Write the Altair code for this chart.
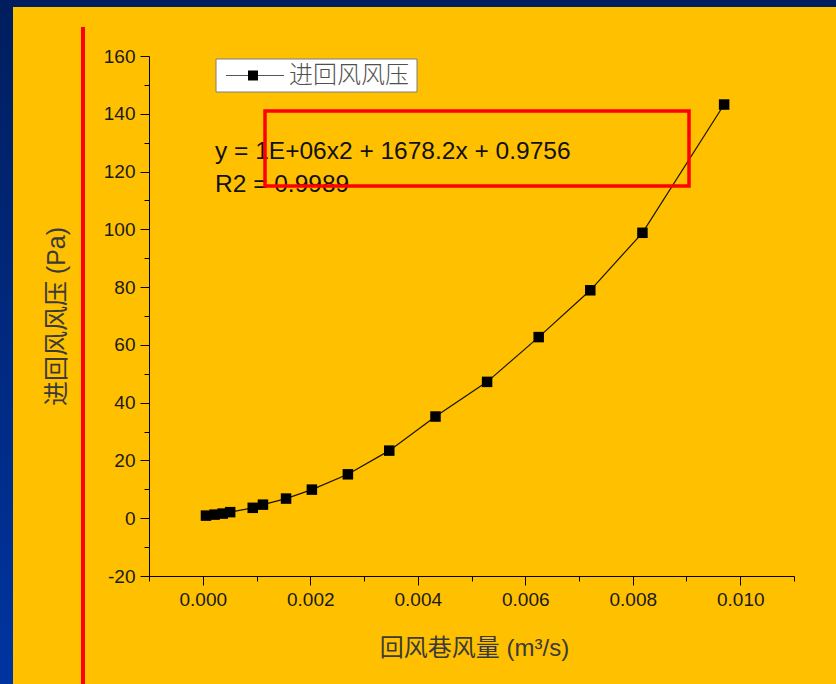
import altair as alt
import pandas as pd

# Measured airflow in the return-air roadway (m^3/s) and intake/return pressure (Pa)
flow = [0.00006, 0.00022, 0.00037, 0.00051, 0.00093, 0.00112, 0.00155, 0.00203,
        0.00270, 0.00347, 0.00433, 0.00529, 0.00625, 0.00721, 0.00818, 0.00970]
pressure = [0.9, 1.25, 1.6, 2.1, 3.6, 4.7, 6.8, 9.9,
            15.2, 23.4, 35.2, 47.2, 62.7, 78.9, 98.8, 143.2]

x_ticks = [-0.001, 0.0, 0.001, 0.002, 0.003, 0.004, 0.005, 0.006,
           0.007, 0.008, 0.009, 0.010, 0.011]
y_ticks = [-20, -10, 0, 10, 20, 30, 40, 50, 60, 70, 80, 90, 100,
           110, 120, 130, 140, 150, 160]

series_name = "进回风风压"
x_title = "回风巷风量 (m³/s)"
y_title = "进回风风压 (Pa)"
fit_eq = "y = 1E+06x2 + 1678.2x + 0.9756"
fit_r2 = "R2 = 0.9989"

W, H = 645, 520
PAD = {"left": 149, "top": 56, "right": 42, "bottom": 108}
ORANGE = "#FFC000"
LATIN = "Liberation Sans, Arial, Noto Sans CJK SC"
one = alt.Data(values=[{}])

df = pd.DataFrame({"flow": flow, "pressure": pressure})

x_enc = alt.X(
    "flow:Q",
    scale=alt.Scale(domain=[-0.001, 0.011], nice=False, zero=False),
    axis=alt.Axis(
        values=x_ticks,
        labelExpr="round(datum.value*1000) % 2 == 0 ? format(datum.value, '.3f') : ''",
        tickSize={"condition": {"test": "round(datum.value*1000) % 2 == 0", "value": 9}, "value": 5},
        title=x_title,
        titleX=325, titleY=72, titleBaseline="middle", titleAlign="center",
        titleFontSize=24, titleFontWeight="normal", titleColor="#3a3a3a",
        titleFont=LATIN,
    ),
)
y_enc = alt.Y(
    "pressure:Q",
    scale=alt.Scale(domain=[-20, 160], nice=False, zero=False),
    axis=alt.Axis(
        values=y_ticks,
        labelExpr="datum.value % 20 == 0 ? '' + datum.value : ''",
        tickSize={"condition": {"test": "datum.value % 20 == 0", "value": 9}, "value": 5},
        title=y_title,
        titleX=-93, titleY=H / 2, titleAngle=270, titleBaseline="middle", titleAlign="center",
        titleFontSize=25, titleFontWeight="normal", titleColor="#3a3a3a",
        titleFont=LATIN,
    ),
)

base = alt.Chart(df).encode(x=x_enc, y=y_enc)
curve = base.mark_line(color="#1a1400", strokeWidth=1.2)
dots = base.mark_point(shape="square", filled=True, size=110, color="black", opacity=1)

# Page frame: dark band on top, gradient band on the left, red divider
top_band = alt.Chart(one).mark_rect(fill="#001E5E").encode(
    x=alt.value(-149), x2=alt.value(687), y=alt.value(-56), y2=alt.value(-49))
left_band = alt.Chart(one).mark_rect(
    fill=alt.Gradient(
        gradient="linear",
        stops=[alt.GradientStop(color="#001E5E", offset=0),
               alt.GradientStop(color="#0034A0", offset=1)],
        x1=0, x2=0, y1=0, y2=1,
    )
).encode(x=alt.value(-149), x2=alt.value(-136), y=alt.value(-56), y2=alt.value(628))
red_bar = alt.Chart(one).mark_rect(fill="#FF0000").encode(
    x=alt.value(-68), x2=alt.value(-64), y=alt.value(-29), y2=alt.value(628))

# Legend box
leg_box = alt.Chart(one).mark_rect(fill="white", stroke="#7f7f7f", strokeWidth=1).encode(
    x=alt.value(67), x2=alt.value(268), y=alt.value(3), y2=alt.value(36))
leg_line = alt.Chart(one).mark_rule(color="#555555", strokeWidth=1).encode(
    x=alt.value(77), x2=alt.value(135), y=alt.value(19.5))
leg_sym = alt.Chart(one).mark_point(shape="square", filled=True, size=100, color="black", opacity=1).encode(
    x=alt.value(104), y=alt.value(19.5))
leg_txt = alt.Chart(one).mark_text(
    text=series_name, align="left", baseline="middle", fontSize=24,
    font="Noto Sans CJK SC", fontWeight=300, color="#505050",
).encode(x=alt.value(140), y=alt.value(19.5))

# Fit equation with its highlight box
eq_txt = alt.Chart(one).mark_text(
    text=fit_eq, align="left", baseline="alphabetic", fontSize=24.5, font=LATIN, color="#111111",
).encode(x=alt.value(66), y=alt.value(103))
r2_txt = alt.Chart(one).mark_text(
    text=fit_r2, align="left", baseline="alphabetic", fontSize=24.5, font=LATIN, color="#111111",
).encode(x=alt.value(66), y=alt.value(136))
red_box = alt.Chart(one).mark_rect(fillOpacity=0, stroke="#FF0000", strokeWidth=3.5).encode(
    x=alt.value(116), x2=alt.value(540), y=alt.value(55), y2=alt.value(130))

chart = alt.layer(
    top_band, left_band, red_bar,
    curve, dots,
    leg_box, leg_line, leg_sym, leg_txt,
    eq_txt, r2_txt, red_box,
).properties(
    width=W, height=H,
    padding=PAD,
    autosize=alt.AutoSizeParams(type="none"),
    background=ORANGE,
).configure_view(
    stroke=None,
).configure_axis(
    grid=False,
    domainColor="black", domainWidth=1,
    tickColor="black", tickWidth=1,
    labelFont=LATIN, labelFontSize=19, labelColor="#1a1a1a", labelPadding=5,
)

chart.save("out.html", embed_options={"renderer": "svg", "actions": False})
